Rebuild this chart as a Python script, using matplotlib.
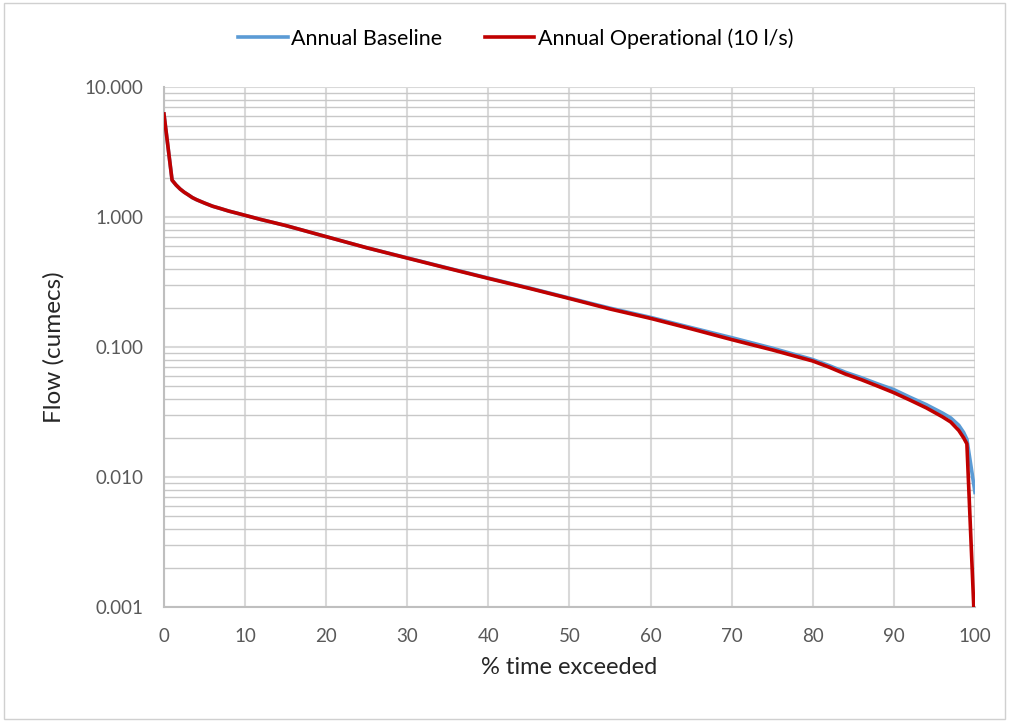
import matplotlib
matplotlib.use("Agg")
import matplotlib.pyplot as plt
from matplotlib.patches import Rectangle
from matplotlib.ticker import FixedLocator, LogLocator, NullFormatter

plt.rcParams['font.family'] = ['Lato', 'DejaVu Sans']

# Flow duration data (% of time exceeded vs flow in cumecs)
pct_exceeded = [0, 1, 1.5, 2, 2.5, 3, 3.5, 4, 5, 6, 7, 8, 9, 10, 12, 15, 20, 25,
                30, 35, 40, 45, 50, 55, 60, 65, 70, 75, 80, 82, 84, 86, 88, 90,
                92, 94, 96, 97, 98, 98.6, 99, 100]
baseline = [6.2, 1.92, 1.76, 1.64, 1.55, 1.48, 1.41, 1.36, 1.28, 1.21, 1.16,
            1.11, 1.07, 1.03, 0.955, 0.86, 0.706, 0.58, 0.485, 0.405, 0.339,
            0.285, 0.238, 0.199, 0.169, 0.141, 0.118, 0.098, 0.080, 0.072,
            0.064, 0.058, 0.052, 0.047, 0.041, 0.036, 0.031, 0.0285, 0.025,
            0.022, 0.0195, 0.0076]
operational = [6.2, 1.92, 1.76, 1.64, 1.55, 1.48, 1.41, 1.36, 1.28, 1.21, 1.16,
               1.11, 1.07, 1.03, 0.955, 0.86, 0.706, 0.58, 0.483, 0.403, 0.337,
               0.283, 0.236, 0.196, 0.166, 0.138, 0.114, 0.095, 0.078, 0.070,
               0.062, 0.056, 0.050, 0.0445, 0.039, 0.034, 0.029, 0.0265, 0.0228,
               0.020, 0.018, 0.0006]

x_ticks = [0, 10, 20, 30, 40, 50, 60, 70, 80, 90, 100]
y_ticks = [0.001, 0.01, 0.1, 1, 10]

fig = plt.figure(figsize=(10.09, 7.22), dpi=100)
ax = fig.add_axes([0.1625, 0.1593, 0.8038, 0.7202])

# chart border
fig.patches.append(Rectangle((0.004, 0.004), 0.992, 0.992, transform=fig.transFigure,
                             fill=False, edgecolor='#d0d0d0', linewidth=1.0))

ax.plot(pct_exceeded, baseline, color='#5B9BD5', linewidth=2.6, label='Annual Baseline',
        solid_joinstyle='round', zorder=3)
ax.plot(pct_exceeded, operational, color='#C00000', linewidth=2.6,
        label='Annual Operational (10 l/s)', solid_joinstyle='round', zorder=4)

ax.set_yscale('log')
ax.set_xlim(0, 100)
ax.set_ylim(0.001, 10)
ax.xaxis.set_major_locator(FixedLocator(x_ticks))
ax.yaxis.set_major_locator(FixedLocator(y_ticks))
ax.yaxis.set_minor_locator(LogLocator(base=10, subs=range(2, 10)))
ax.yaxis.set_minor_formatter(NullFormatter())
ax.set_yticklabels([f"{v:.3f}" for v in y_ticks])

ax.grid(True, which='major', axis='both', color='#d9d9d9', linewidth=1.5)
ax.grid(True, which='minor', axis='y', color='#c8c8c8', linewidth=1.0)
ax.set_axisbelow(True)

ax.tick_params(which='both', length=0)
ax.tick_params(axis='both', labelsize=13.5, labelcolor='#595959', pad=15)
for s in ['top', 'right']:
    ax.spines[s].set_visible(False)
ax.spines['left'].set_color('#bfbfbf')
ax.spines['bottom'].set_color('#bfbfbf')
ax.spines['left'].set_linewidth(1.5)
ax.spines['bottom'].set_linewidth(1.5)

ax.set_xlabel('% time exceeded', fontsize=17, color='#262626', labelpad=9)
ax.set_ylabel('Flow (cumecs)', fontsize=17.5, color='#262626', labelpad=14)

fig.legend(loc='center', bbox_to_anchor=(0.511, 0.947), ncol=2, frameon=False,
           fontsize=15.5, handlelength=2.3, handletextpad=0.15, columnspacing=2.0)

fig.savefig('out.png', dpi=100)
